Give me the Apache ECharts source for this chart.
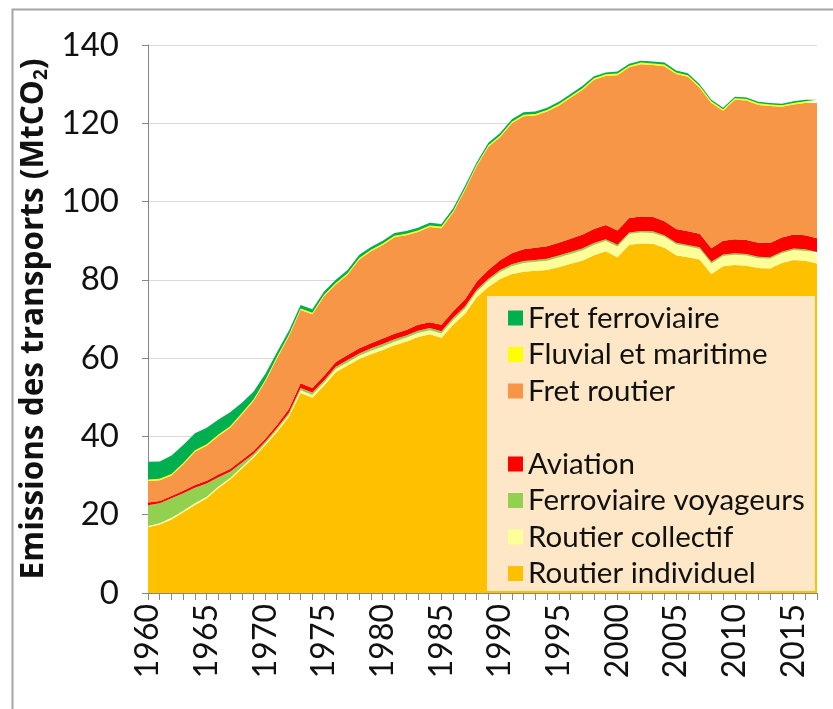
<!DOCTYPE html>
<html>
<head>
    <meta charset="utf-8" />
    <title>Emissions des transports</title>
    <script src="https://cdn.jsdelivr.net/npm/echarts@6/dist/echarts.min.js"></script>
    <style>
        html, body { margin: 0; padding: 0; background: #fff; }
        #content { width: 833px; height: 709px; }
    </style>
</head>
<body>
    <div id="content"></div>
    <script type="text/javascript">
        var years = [];
        for (var y = 1960; y <= 2017; y++) years.push(String(y));

        // MtCO2 (1960 -> 2017)
        var routierIndividuel = [16.8, 17.5, 18.8, 20.6, 22.5, 24.2, 26.8, 29.0, 31.8, 34.6,
            37.8, 41.2, 45.0, 51.1, 49.9, 53.0, 56.4, 58.1, 59.8, 61.0,
            62.1, 63.3, 64.2, 65.4, 66.1, 65.2, 68.5, 71.3, 75.5, 78.2,
            80.2, 81.5, 82.1, 82.3, 82.5, 83.2, 84.1, 84.9, 86.3, 87.3,
            85.8, 89.0, 89.3, 89.2, 88.2, 86.3, 85.8, 85.2, 81.5, 83.5,
            83.8, 83.6, 83.0, 82.9, 84.3, 85.1, 84.9, 84.2];
        var routierCollectif = [0.3, 0.3, 0.4, 0.4, 0.4, 0.4, 0.4, 0.4, 0.4, 0.4,
            0.4, 0.5, 0.5, 0.7, 0.7, 0.7, 0.8, 0.8, 0.8, 0.9,
            0.9, 0.9, 1.0, 1.0, 1.0, 1.1, 1.2, 1.3, 1.4, 1.6,
            1.8, 2.0, 2.2, 2.3, 2.4, 2.5, 2.5, 2.6, 2.6, 2.6,
            2.7, 2.7, 2.8, 2.8, 2.8, 2.8, 2.7, 2.7, 2.7, 2.6,
            2.6, 2.6, 2.5, 2.5, 2.5, 2.5, 2.5, 2.5];
        var ferroviaireVoyageurs = [5.3, 5.1, 5.0, 4.5, 4.0, 3.4, 2.4, 1.6, 1.1, 0.6,
            0.5, 0.5, 0.5, 0.6, 0.6, 0.6, 0.6, 0.6, 0.6, 0.6,
            0.6, 0.6, 0.6, 0.6, 0.6, 0.6, 0.6, 0.6, 0.6, 0.5,
            0.5, 0.5, 0.5, 0.5, 0.5, 0.5, 0.5, 0.5, 0.5, 0.5,
            0.5, 0.4, 0.4, 0.4, 0.4, 0.4, 0.4, 0.4, 0.4, 0.4,
            0.4, 0.4, 0.4, 0.4, 0.4, 0.4, 0.4, 0.4];
        var aviation = [0.7, 0.6, 0.6, 0.6, 0.7, 0.7, 0.7, 0.7, 0.7, 0.7,
            0.7, 0.8, 1.0, 1.2, 1.2, 1.2, 1.2, 1.3, 1.3, 1.3,
            1.4, 1.4, 1.4, 1.5, 1.5, 1.6, 1.7, 1.8, 2.0, 2.2,
            2.5, 2.8, 3.0, 3.1, 3.2, 3.3, 3.4, 3.5, 3.6, 3.6,
            3.6, 3.7, 3.7, 3.7, 3.6, 3.5, 3.5, 3.5, 3.5, 3.5,
            3.6, 3.6, 3.6, 3.6, 3.6, 3.6, 3.6, 3.5];
        var fretRoutier = [5.5, 5.3, 5.2, 6.7, 8.5, 8.9, 9.8, 10.5, 11.6, 12.8,
            14.7, 17.0, 18.6, 18.7, 18.8, 20.3, 19.8, 20.5, 22.7, 23.5,
            23.9, 24.7, 24.2, 23.7, 24.3, 24.7, 25.2, 27.9, 29.5, 31.5,
            31.5, 33.2, 34.0, 33.8, 34.4, 35.0, 36.0, 37.0, 38.1, 38.1,
            39.7, 38.5, 38.9, 38.8, 39.6, 39.6, 39.5, 37.3, 37.1, 33.2,
            35.6, 35.6, 35.2, 35.0, 33.4, 33.2, 33.8, 34.6];
        var fluvialMaritime = [0.4, 0.4, 0.4, 0.4, 0.4, 0.4, 0.4, 0.4, 0.4, 0.4,
            0.4, 0.4, 0.4, 0.4, 0.4, 0.4, 0.4, 0.4, 0.4, 0.4,
            0.4, 0.4, 0.4, 0.4, 0.4, 0.4, 0.4, 0.4, 0.4, 0.4,
            0.4, 0.4, 0.4, 0.4, 0.4, 0.4, 0.4, 0.4, 0.4, 0.4,
            0.4, 0.4, 0.4, 0.4, 0.4, 0.4, 0.4, 0.4, 0.4, 0.4,
            0.4, 0.4, 0.4, 0.4, 0.4, 0.4, 0.4, 0.4];
        var fretFerroviaire = [4.5, 4.4, 4.7, 4.6, 4.3, 4.2, 3.8, 3.6, 2.6, 2.0,
            1.5, 1.2, 1.0, 0.9, 0.9, 0.8, 0.8, 0.8, 0.8, 0.7,
            0.7, 0.7, 0.7, 0.7, 0.7, 0.7, 0.7, 0.7, 0.6, 0.6,
            0.6, 0.6, 0.6, 0.6, 0.6, 0.6, 0.6, 0.6, 0.5, 0.5,
            0.5, 0.5, 0.5, 0.5, 0.5, 0.5, 0.5, 0.5, 0.4, 0.4,
            0.4, 0.4, 0.4, 0.4, 0.4, 0.4, 0.4, 0.4];

        var font = "Lato";

        function area(name, data, color) {
            return {
                name: name,
                type: 'line',
                stack: 'total',
                data: data,
                symbol: 'none',
                lineStyle: { width: 0 },
                areaStyle: { color: color, opacity: 1 },
                itemStyle: { color: color },
                emphasis: { disabled: true }
            };
        }

        var legendText = { fontFamily: font, fontSize: 29.5, color: '#111' };

        var myChart = echarts.init(document.getElementById("content"));
        myChart.setOption({
            animation: false,
            grid: { left: 148, right: 16, top: 45, bottom: 116 },
            xAxis: {
                type: 'category',
                data: years,
                boundaryGap: false,
                axisLine: { lineStyle: { color: '#868686', width: 1 } },
                axisTick: { interval: 0, length: 7, lineStyle: { color: '#868686' } },
                axisLabel: {
                    interval: 4,
                    rotate: 90,
                    margin: 11,
                    fontFamily: font,
                    fontSize: 32,
                    color: '#111'
                }
            },
            yAxis: {
                type: 'value',
                min: 0,
                max: 140,
                interval: 20,
                name: 'Emissions des transports (MtCO{sub|2})',
                nameLocation: 'middle',
                nameRotate: 90,
                nameGap: 93,
                nameTextStyle: {
                    fontFamily: 'Open Sans',
                    fontSize: 31.5,
                    fontWeight: 'bold',
                    color: '#111',
                    rich: {
                        sub: { fontFamily: 'Open Sans', fontSize: 19, fontWeight: 'bold', color: '#111', padding: [15, 0, 0, 0] }
                    }
                },
                axisLine: { show: true, lineStyle: { color: '#868686' } },
                axisTick: { show: true, length: 6, lineStyle: { color: '#868686' } },
                axisLabel: { fontFamily: font, fontSize: 33, color: '#111', margin: 29 },
                splitLine: { lineStyle: { color: '#D9D9D9' } }
            },
            legend: [{
                data: ['Fret ferroviaire', 'Fluvial et maritime', 'Fret routier'],
                orient: 'vertical',
                left: 503,
                top: 298,
                itemWidth: 15,
                itemHeight: 15,
                itemGap: 6.5,
                itemStyle: { borderWidth: 0 },
                icon: 'rect',
                selectedMode: false,
                textStyle: legendText,
                z: 10
            }, {
                data: ['Aviation', 'Ferroviaire voyageurs', 'Routier collectif', 'Routier individuel'],
                orient: 'vertical',
                left: 503,
                top: 444,
                itemWidth: 15,
                itemHeight: 15,
                itemGap: 6.5,
                itemStyle: { borderWidth: 0 },
                icon: 'rect',
                selectedMode: false,
                textStyle: legendText,
                z: 10
            }],
            graphic: [{
                type: 'rect',
                left: 487,
                top: 296,
                z: 8,
                shape: { width: 328, height: 295 },
                style: { fill: '#FDE7C6' }
            }, {
                type: 'rect',
                left: 10,
                top: 7,
                z: 8,
                shape: { width: 860, height: 760 },
                style: { fill: null, stroke: '#A6A6A6', lineWidth: 2 }
            }],
            series: [
                area('Routier individuel', routierIndividuel, '#FFC000'),
                area('Routier collectif', routierCollectif, '#FFFF99'),
                area('Ferroviaire voyageurs', ferroviaireVoyageurs, '#92D050'),
                area('Aviation', aviation, '#FF0000'),
                area('Fret routier', fretRoutier, '#F79646'),
                area('Fluvial et maritime', fluvialMaritime, '#FFFF00'),
                area('Fret ferroviaire', fretFerroviaire, '#00B050')
            ]
        });
    </script>
</body>
</html>
